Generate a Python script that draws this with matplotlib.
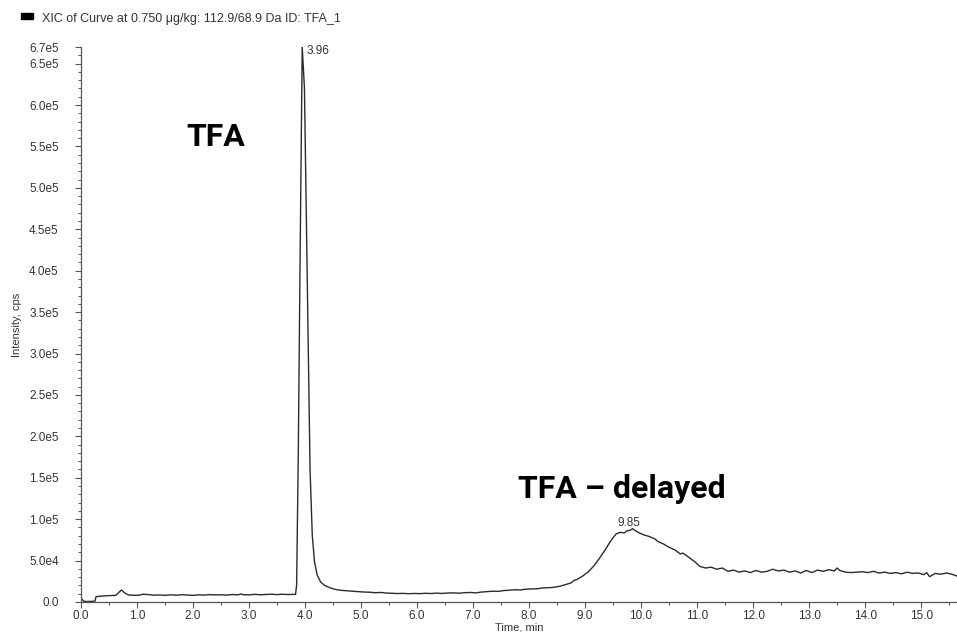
import matplotlib
matplotlib.use("Agg")
import matplotlib.pyplot as plt
from matplotlib.patches import Rectangle
from matplotlib.ticker import FixedLocator, MultipleLocator

# XIC trace (time in min, intensity in cps)
time_min = [
    0.00, 0.02, 0.05, 0.10, 0.20, 0.25, 0.27, 0.35, 0.45, 0.55, 0.62, 0.67, 0.72, 0.78,
    0.85, 0.95, 1.05, 1.10, 1.20, 1.30, 1.40, 1.50, 1.60, 1.70, 1.80, 1.90, 2.00, 2.10,
    2.20, 2.30, 2.40, 2.50, 2.60, 2.70, 2.80, 2.85, 2.90, 3.00, 3.10, 3.20, 3.30, 3.40,
    3.50, 3.60, 3.70, 3.80, 3.83,
    3.85, 3.88, 3.91, 3.95, 3.99, 4.02, 4.06, 4.09, 4.13, 4.17, 4.22, 4.28, 4.35, 4.45,
    4.55, 4.65, 4.75, 4.85, 4.95, 5.05, 5.15, 5.25, 5.35, 5.45, 5.55, 5.65, 5.75, 5.85,
    5.95, 6.05, 6.15, 6.25, 6.35, 6.45, 6.55, 6.65, 6.75, 6.85, 6.95, 7.05, 7.15, 7.25,
    7.35, 7.45, 7.55, 7.65, 7.75, 7.85, 7.95, 8.05, 8.15, 8.25, 8.35, 8.45, 8.55, 8.65,
    8.75, 8.80, 8.85, 8.95, 9.05, 9.15, 9.25, 9.35, 9.45, 9.55, 9.62, 9.70, 9.75, 9.80,
    9.85, 9.90, 9.95, 10.05, 10.15, 10.25, 10.30, 10.40, 10.50, 10.60, 10.70, 10.75,
    10.85, 10.95, 11.05, 11.15, 11.25, 11.35, 11.45, 11.55, 11.65, 11.75, 11.85, 11.95,
    12.05, 12.15, 12.25, 12.35, 12.45, 12.55, 12.65, 12.75, 12.85, 12.95, 13.05, 13.15,
    13.25, 13.35, 13.45, 13.50, 13.55, 13.65, 13.75, 13.85, 13.95, 14.05, 14.15, 14.25,
    14.35, 14.45, 14.55, 14.65, 14.75, 14.85, 14.95, 15.05, 15.10, 15.15, 15.25, 15.35,
    15.45, 15.55, 15.65,
]
intensity = [
    5.0e3, 3.0e3, 1.0e3, 5.0e2, 8.0e2, 1.0e3, 6.5e3, 7.0e3, 7.5e3, 7.8e3, 8.0e3, 1.1e4, 1.45e4, 1.1e4,
    8.5e3, 8.0e3, 8.3e3, 9.3e3, 9.0e3, 8.2e3, 8.5e3, 8.0e3, 8.6e3, 8.2e3, 8.8e3, 8.4e3, 8.0e3, 8.6e3,
    8.3e3, 8.9e3, 8.5e3, 8.7e3, 8.3e3, 9.0e3, 8.6e3, 9.6e3, 8.8e3, 8.6e3, 9.2e3, 8.7e3, 9.1e3, 9.4e3,
    8.9e3, 9.3e3, 9.0e3, 9.2e3, 9.0e3,
    2.0e4, 1.8e5, 4.0e5, 6.7e5, 6.2e5, 4.8e5, 3.0e5, 1.6e5, 8.0e4, 4.8e4, 3.2e4, 2.4e4, 2.0e4, 1.7e4,
    1.5e4, 1.4e4, 1.35e4, 1.3e4, 1.25e4, 1.2e4, 1.18e4, 1.12e4, 1.15e4, 1.08e4, 1.05e4, 1.02e4, 1.04e4, 1.0e4,
    1.03e4, 1.01e4, 1.05e4, 1.02e4, 1.07e4, 1.03e4, 1.08e4, 1.1e4, 1.06e4, 1.12e4, 1.15e4, 1.1e4, 1.2e4, 1.25e4,
    1.3e4, 1.28e4, 1.38e4, 1.42e4, 1.48e4, 1.45e4, 1.55e4, 1.58e4, 1.6e4, 1.7e4, 1.72e4, 1.78e4, 1.9e4, 2.1e4,
    2.3e4, 2.6e4, 2.7e4, 3.1e4, 3.6e4, 4.3e4, 5.2e4, 6.2e4, 7.3e4, 8.2e4, 8.4e4, 8.35e4, 8.6e4, 8.65e4,
    8.85e4, 8.6e4, 8.4e4, 8.1e4, 7.9e4, 7.6e4, 7.3e4, 7.0e4, 6.6e4, 6.3e4, 5.8e4, 5.9e4,
    5.4e4, 4.9e4, 4.3e4, 4.1e4, 4.2e4, 3.95e4, 4.1e4, 3.7e4, 3.85e4, 3.6e4, 3.75e4, 3.55e4,
    3.8e4, 3.6e4, 3.7e4, 3.95e4, 3.75e4, 3.85e4, 3.6e4, 3.75e4, 3.5e4, 3.8e4, 3.55e4, 3.85e4,
    3.7e4, 3.9e4, 3.75e4, 4.1e4, 3.8e4, 3.6e4, 3.55e4, 3.6e4, 3.65e4, 3.55e4, 3.7e4, 3.5e4,
    3.6e4, 3.45e4, 3.55e4, 3.4e4, 3.6e4, 3.45e4, 3.5e4, 3.3e4, 3.55e4, 3.05e4, 3.45e4, 3.35e4,
    3.5e4, 3.35e4, 3.1e4,
]

peak_times = [3.96, 9.85]
peak_heights = [6.7e5, 8.85e4]

y_ticks = [0, 5e4, 1e5, 1.5e5, 2e5, 2.5e5, 3e5, 3.5e5, 4e5, 4.5e5, 5e5, 5.5e5, 6e5, 6.5e5, 6.7e5]
y_labels = ["0.0", "5.0e4", "1.0e5", "1.5e5", "2.0e5", "2.5e5", "3.0e5", "3.5e5",
            "4.0e5", "4.5e5", "5.0e5", "5.5e5", "6.0e5", "6.5e5", "6.7e5"]
x_ticks = [float(v) for v in range(16)]
x_labels = [f"{v:.1f}" for v in x_ticks]

plt.rcParams["font.family"] = ["Liberation Sans", "DejaVu Sans"]
ink = "#2b2b2b"

fig = plt.figure(figsize=(9.57, 6.32), dpi=100)
ax = fig.add_axes([0.0846, 0.0475, 0.9154, 0.878])

ax.plot(time_min, intensity, color=ink, lw=1.0)

ax.set_xlim(0, 15.64)
ax.set_ylim(0, 6.7e5)
for side in ("top", "right"):
    ax.spines[side].set_visible(False)
for side in ("left", "bottom"):
    ax.spines[side].set_color("#555555")
    ax.spines[side].set_linewidth(0.9)

ax.xaxis.set_major_locator(FixedLocator(x_ticks))
ax.set_xticklabels(x_labels)
ax.xaxis.set_minor_locator(MultipleLocator(0.5))
ax.yaxis.set_major_locator(FixedLocator(y_ticks))
ax.set_yticklabels(y_labels)
ax.yaxis.set_minor_locator(MultipleLocator(1e4))
ax.tick_params(which="major", length=4, width=0.8, color="#555555",
               labelsize=8.5, labelcolor="#333333", pad=2)
ax.tick_params(axis="y", which="major", pad=12)
ax.tick_params(which="minor", length=2.5, width=0.7, color="#555555")

ax.set_xlabel("Time, min", fontsize=8, color="#333333", labelpad=0)
ax.set_ylabel("Intensity, cps", fontsize=8, color="#333333", labelpad=5)

# apex labels
ax.annotate(f"{peak_times[0]:.2f}", (peak_times[0], peak_heights[0]), xytext=(3, -3),
            textcoords="offset points", fontsize=8.5, color="#333333", ha="left", va="center")
ax.annotate(f"{peak_times[1]:.2f}", (peak_times[1], peak_heights[1]), xytext=(-3, 4),
            textcoords="offset points", fontsize=8.5, color="#333333", ha="center", va="center")

# large compound annotations
ax.text(1.88, 5.62e5, "TFA", fontsize=23, fontweight="bold", family=["Roboto", "DejaVu Sans"],
        ha="left", va="center", color="black")
ax.text(7.8, 1.37e5, "TFA \u2013 delayed", fontsize=23, fontweight="bold",
        family=["Roboto", "DejaVu Sans"], ha="left", va="center", color="black")

# legend-like header
fig.patches.append(Rectangle((21 / 957, 1 - 19 / 632), 12 / 957, 6 / 632,
                             transform=fig.transFigure, color="black"))
fig.text(42 / 957, 1 - 19 / 632, "XIC of Curve at 0.750 \u03bcg/kg: 112.9/68.9 Da ID: TFA_1",
         fontsize=9, color="#333333", ha="left", va="center")

fig.savefig("out.png", dpi=100)
